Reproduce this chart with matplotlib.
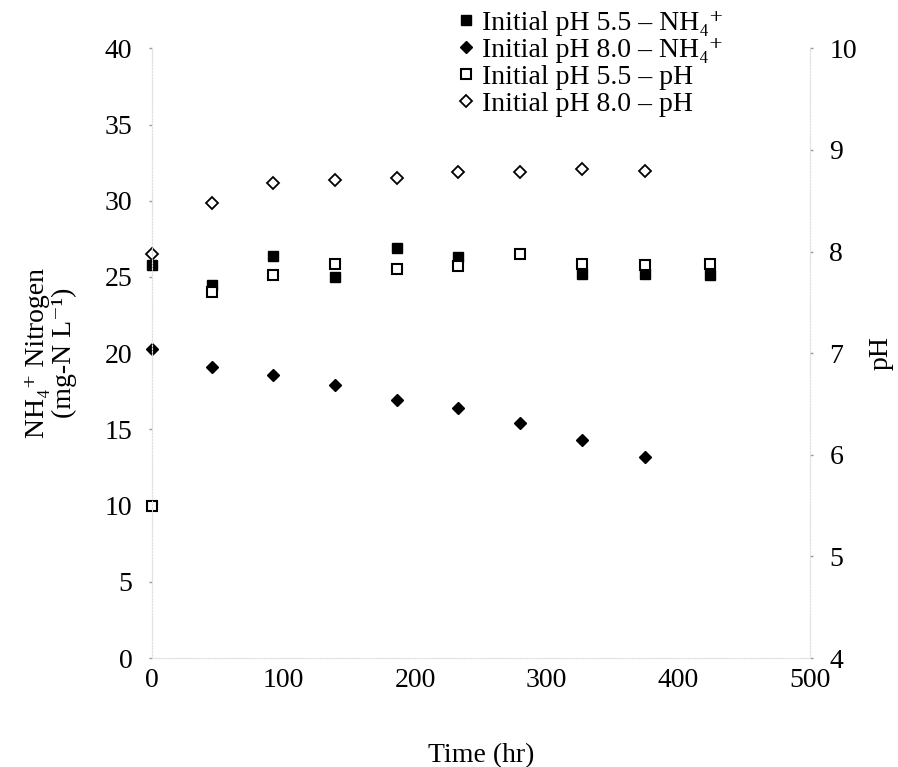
import matplotlib
matplotlib.use("Agg")
import matplotlib.pyplot as plt

plt.rcParams['font.family'] = ['Liberation Serif', 'DejaVu Serif']

# 数据
t = [0, 46, 92, 139, 186, 233, 280, 327, 375, 424]
nh4_55 = [25.8, 24.5, 26.4, 25.0, 26.9, 26.3, None, 25.2, 25.2, 25.1]
nh4_80 = [20.3, 19.1, 18.6, 17.9, 16.9, 16.4, 15.4, 14.3, 13.2]
ph_55 = [5.50, 7.60, 7.77, 7.88, 7.83, 7.86, 7.98, 7.88, 7.87, 7.88]
ph_80 = [7.98, 8.48, 8.67, 8.70, 8.72, 8.78, 8.78, 8.81, 8.79]

fig = plt.figure(figsize=(8.98, 7.67), dpi=100)
ax = fig.add_axes([0.169, 0.142, 0.733, 0.795])
ax2 = ax.twinx()

t55 = [x for x, v in zip(t, nh4_55) if v is not None]
v55 = [v for v in nh4_55 if v is not None]

h1, = ax.plot(t55, v55, 's', color='black', markersize=7, linestyle='none', clip_on=False)
h2, = ax.plot(t[:len(nh4_80)], nh4_80, 'D', color='black', markersize=6.5, linestyle='none', clip_on=False)
h3, = ax2.plot(t, ph_55, 's', mfc='white', mec='black', mew=1.5, markersize=7, linestyle='none', clip_on=False)
h4, = ax2.plot(t[:len(ph_80)], ph_80, 'D', mfc='white', mec='black', mew=1.3, markersize=6.5, linestyle='none', clip_on=False)

ax.set_xlim(0, 500)
ax.set_ylim(0, 40)
ax2.set_ylim(4, 10)
ax.set_xticks(range(0, 501, 100))
ax.set_yticks(range(0, 41, 5))
ax2.set_yticks(range(4, 11, 1))

for a in (ax, ax2):
    for s in a.spines.values():
        s.set_color('#e0e0e0')
        s.set_linestyle(':')
        s.set_linewidth(0.8)
    a.spines['top'].set_visible(False)
    a.tick_params(labelsize=20, length=2, width=1, color='#999999', pad=12)
ax.tick_params(axis='x', length=0, pad=7)

ax.set_xlabel('Time (hr)', fontsize=20, labelpad=36)
ax.set_ylabel('NH₄⁺ Nitrogen\n(mg-N L⁻¹)', fontsize=20, labelpad=20, linespacing=1.1)
ax2.set_ylabel('pH', fontsize=20, labelpad=8)

labels = ['Initial pH 5.5 – NH₄⁺', 'Initial pH 8.0 – NH₄⁺',
          'Initial pH 5.5 – pH', 'Initial pH 8.0 – pH']
fig.legend([h1, h2, h3, h4], labels, loc='upper left', bbox_to_anchor=(0.49, 1.012),
           frameon=False, fontsize=20, handlelength=0.5, handletextpad=0.3,
           labelspacing=0.06, borderpad=0.2)

fig.savefig('out.png', dpi=100)
